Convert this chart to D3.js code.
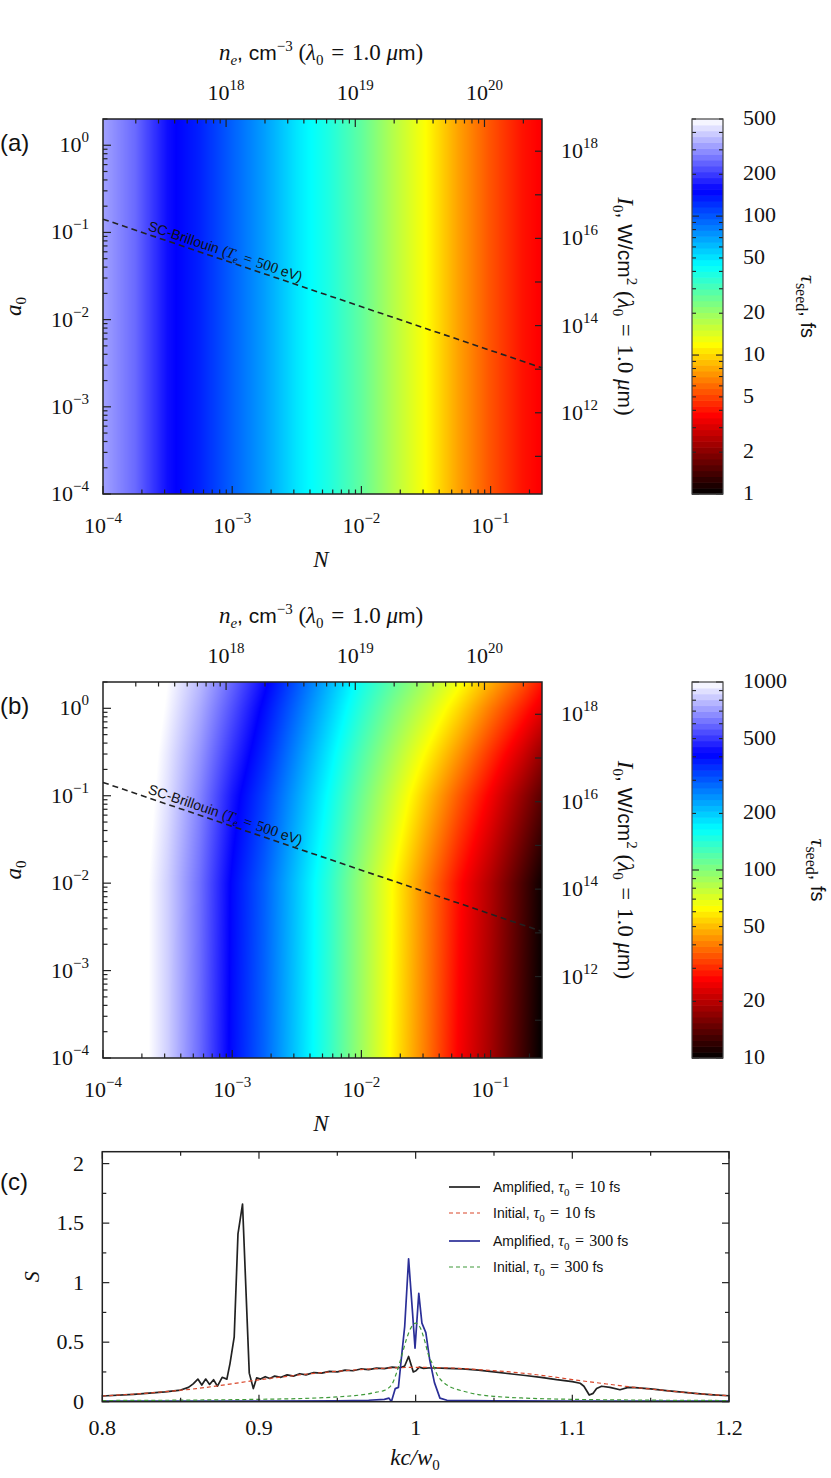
<!DOCTYPE html>
<html>
<head>
<meta charset="utf-8">
<script src="https://cdn.jsdelivr.net/npm/d3@7"></script>
<style>
body { margin: 0; background: #fff; }
text { fill: #111; }
</style>
</head>
<body>
<script>
// ---- data ----

// sample densities N (common grid for both maps)
var gridN = [1e-4, 1.78e-4, 3.16e-4, 5.62e-4, 1e-3, 1.78e-3, 3.16e-3, 5.62e-3,
             1e-2, 1.78e-2, 3.16e-2, 5.62e-2, 1e-1, 1.78e-1, 0.25];

// (a) tau_seed (fs), independent of a0
var tauSeedA = [324, 250, 163, 131, 96, 71, 50, 38, 27, 17.5, 12, 7.8, 5.4, 4.0, 3.6];

// (b) tau_seed (fs), one row per a0 value
var gridA0 = [1e-4, 1e-2, 0.1, 0.3, 1, 2];
var tauSeedB = [
    [2500, 1120, 850, 600, 400, 290, 200, 138, 91, 60, 40, 26, 18.6, 12.6, 10],
    [2500, 1120, 850, 610, 407, 295, 204, 141, 93, 62, 41, 27.5, 19.5, 13.2, 10.5],
    [2500, 1170, 900, 655, 450, 330, 232, 162, 110, 76, 52, 36, 25.5, 17.5, 14],
    [2500, 1200, 925, 695, 495, 362, 254, 178, 123, 87, 62, 44, 31, 22, 17.5],
    [2500, 1250, 975, 750, 550, 400, 285, 202, 142, 103, 77, 56, 40, 29, 24],
    [2500, 1290, 1000, 790, 590, 432, 308, 218, 155, 116, 88, 66, 48, 35, 28]
];

// SC-Brillouin threshold (Te = 500 eV)
var brillN = [1e-4, 0.25];
var brillA0 = [0.142, 0.0028];

// colour bar ranges and labels
var cbDomainA = [1, 500];
var cbDomainB = [10, 1000];
var cbLabelsA = [1, 2, 5, 10, 20, 50, 100, 200, 500];
var cbLabelsB = [10, 20, 50, 100, 200, 500, 1000];
var topLabels = [1e18, 1e19, 1e20];
var rightLabels = [1e12, 1e14, 1e16, 1e18];

// (c) spectra
var kInit10 = [0.80, 0.82, 0.84, 0.86, 0.88, 0.90, 0.92, 0.94, 0.96, 0.98, 1.00,
               1.02, 1.04, 1.06, 1.08, 1.10, 1.12, 1.14, 1.16, 1.18, 1.20];
var sInit10 = [0.048, 0.064, 0.084, 0.110, 0.145, 0.184, 0.216, 0.244, 0.266, 0.281, 0.288,
               0.284, 0.270, 0.250, 0.222, 0.186, 0.152, 0.120, 0.093, 0.068, 0.050];

var kAmp10 = [0.80, 0.82, 0.84, 0.85, 0.855, 0.858, 0.861, 0.8635, 0.866, 0.8685, 0.871, 0.8735,
              0.8765, 0.8795, 0.8815, 0.8842, 0.8866, 0.8895, 0.8938, 0.8964, 0.8985, 0.901, 0.904,
              0.907, 0.91, 0.914, 0.918, 0.922, 0.926, 0.93, 0.935, 0.94, 0.945, 0.95, 0.955, 0.96,
              0.965, 0.97, 0.975, 0.98, 0.985, 0.99, 0.993, 0.9955, 0.9985, 1.0002, 1.0023, 1.005,
              1.01, 1.02, 1.03, 1.04, 1.05, 1.06, 1.07, 1.08, 1.09, 1.10, 1.105, 1.1074, 1.1108,
              1.1133, 1.1155, 1.1187, 1.124, 1.1304, 1.1357, 1.14, 1.15, 1.16, 1.17, 1.18, 1.19, 1.20];
var sAmp10 = [0.048, 0.062, 0.083, 0.098, 0.12, 0.15, 0.19, 0.14, 0.19, 0.145, 0.185, 0.13,
              0.205, 0.19, 0.32, 0.545, 1.41, 1.66, 0.24, 0.11, 0.20, 0.19, 0.21,
              0.195, 0.215, 0.205, 0.225, 0.215, 0.235, 0.225, 0.245, 0.24, 0.255, 0.25, 0.265, 0.26,
              0.275, 0.27, 0.282, 0.278, 0.29, 0.285, 0.30, 0.38, 0.25, 0.26, 0.29, 0.28,
              0.285, 0.28, 0.275, 0.265, 0.25, 0.235, 0.22, 0.205, 0.185, 0.168, 0.155, 0.13, 0.056,
              0.07, 0.11, 0.13, 0.12, 0.10, 0.12, 0.118, 0.108, 0.093, 0.08, 0.068, 0.058, 0.05];

var kInit300 = [0.80, 0.85, 0.90, 0.93, 0.95, 0.96, 0.97, 0.975, 0.98, 0.985, 0.988, 0.991, 0.994,
                0.997, 1.0, 1.003, 1.006, 1.008, 1.011, 1.014, 1.018, 1.022, 1.026, 1.03, 1.04,
                1.05, 1.07, 1.10, 1.15, 1.20];
var sInit300 = [0.01, 0.013, 0.02, 0.028, 0.04, 0.05, 0.066, 0.08, 0.095, 0.15, 0.25, 0.38, 0.52,
                0.62, 0.66, 0.62, 0.5, 0.40, 0.31, 0.22, 0.16, 0.125, 0.105, 0.09, 0.06,
                0.045, 0.03, 0.02, 0.013, 0.01];

var kAmp300 = [0.80, 0.85, 0.90, 0.95, 0.97, 0.98, 0.983, 0.9845, 0.987, 0.989, 0.991, 0.993,
               0.9955, 0.998, 0.9996, 1.002, 1.004, 1.0065, 1.009, 1.012, 1.0155, 1.02, 1.05,
               1.10, 1.20];
var sAmp300 = [0.005, 0.005, 0.005, 0.008, 0.012, 0.02, 0.03, 0.0, 0.11, 0.12, 0.38, 0.63,
               1.2, 0.75, 0.45, 0.91, 0.66, 0.58, 0.35, 0.16, 0.03, 0.012, 0.008,
               0.005, 0.004];

// colour map: fraction of the colour bar -> colour
var cmapT = [0, 0.21, 0.40, 0.61, 0.81, 1];
var cmapColors = ["#000000", "#ff0000", "#ffff00", "#00ffff", "#0000ff", "#ffffff"];

// ---- page ----
var SERIF = "'Liberation Serif', 'Times New Roman', serif";
var SANS = "'Liberation Sans', Arial, sans-serif";
var EQ = "\u2004=\u2004"; // math spacing around "="
var W = 831, H = 1478;
var svg = d3.select("body").append("svg").attr("width", W).attr("height", H);

var cmap = d3.scaleLinear().domain(cmapT).range(cmapColors)
    .interpolate(d3.interpolateRgb).clamp(true);

// geometric interpolation between samples
function geo(a, b) {
    return function (t) { return a * Math.pow(b / a, t); };
}

function isDecade(v) {
    var l = Math.log10(v);
    return Math.abs(l - Math.round(l)) < 1e-6;
}

// small helper: tspan with font settings
function span(t, txt, fam, size, opts) {
    opts = opts || {};
    var s = t.append("tspan").style("font-family", fam).style("font-size", size + "px").text(txt);
    if (opts.italic) s.style("font-style", "italic");
    if (opts.dy) s.attr("dy", opts.dy);
    return s;
}

function powLabel(g, x, y, e, anchor) {
    var t = g.append("text").attr("x", x).attr("y", y).attr("text-anchor", anchor)
        .style("font-family", SERIF).style("font-size", "22px");
    span(t, "10", SERIF, 22);
    span(t, e < 0 ? "\u2212" + (-e) : String(e), SERIF, 15, { dy: -10 });
}

function heatmap(g, xScale, yScale, columnFn, cScale) {
    var x0 = xScale.range()[0], x1 = xScale.range()[1];
    var yTop = yScale.range()[1], yBot = yScale.range()[0];
    var w = Math.round(x1 - x0), h = Math.round(yBot - yTop);
    var cv = document.createElement("canvas");
    cv.width = w; cv.height = h;
    var ctx = cv.getContext("2d");
    var img = ctx.createImageData(w, h);
    var i, j, k, c, tauOf;
    for (i = 0; i < w; i++) {
        tauOf = columnFn(xScale.invert(x0 + i + 0.5));
        for (j = 0; j < h; j++) {
            c = d3.rgb(cmap(cScale(tauOf(yScale.invert(yTop + j + 0.5)))));
            k = 4 * (j * w + i);
            img.data[k] = c.r; img.data[k + 1] = c.g; img.data[k + 2] = c.b; img.data[k + 3] = 255;
        }
    }
    ctx.putImageData(img, 0, 0);
    g.append("image")
        .attr("x", x0).attr("y", yTop).attr("width", w).attr("height", h)
        .attr("preserveAspectRatio", "none")
        .attr("href", cv.toDataURL());
}

function lambdaPart(t) {
    span(t, " (", SERIF, 23, { dy: 9 });
    span(t, "\u03bb", SERIF, 23, { italic: true });
    span(t, "0", SERIF, 15, { dy: 5 });
    span(t, EQ + "1.0 ", SERIF, 23, { dy: -5 });
    span(t, "\u03bc", SERIF, 23, { italic: true });
    span(t, "m", SANS, 21);
    span(t, ")", SERIF, 23);
}

function mapPanel(opt) {
    var g = svg.append("g");
    var yTop = opt.yTop, yBot = opt.yBot;
    var xN = d3.scaleLog().domain([1e-4, 0.25]).range([103, 542]);
    var yA = d3.scaleLog().domain([1e-4, 2]).range([yBot, yTop]);
    // I0 = 1.37e18 a0^2 W/cm^2 at 1 um;  n_c = 1.115e21 cm^-3
    var yI = d3.scaleLog().domain([1.37e18 * 1e-8, 1.37e18 * 4]).range([yBot, yTop]);
    var xNe = d3.scaleLog().domain([1.115e21 * 1e-4, 1.115e21 * 0.25]).range([103, 542]);
    var cbar = d3.scaleLog().domain(opt.cbDomain).range([yBot, yTop]);
    var cFrac = d3.scaleLog().domain(opt.cbDomain).range([0, 1]).clamp(true);

    heatmap(g, xN, yA, opt.columnFn, cFrac);

    // SC-Brillouin line
    var lineG = g.append("g");
    var brill = d3.zip(brillN, brillA0);
    lineG.append("path")
        .attr("d", d3.line().x(function (d) { return xN(d[0]); }).y(function (d) { return yA(d[1]); })(brill))
        .attr("fill", "none").attr("stroke", "#222").attr("stroke-width", 1.6)
        .attr("stroke-dasharray", "6,4");
    var onLine = d3.scaleLog().domain(brillN).range(brillA0).interpolate(geo);
    var angle = Math.atan2(yA(brillA0[1]) - yA(brillA0[0]), xN(brillN[1]) - xN(brillN[0])) * 180 / Math.PI;
    var labN = 2.15e-4;
    var lab = lineG.append("text")
        .attr("transform", "translate(" + xN(labN) + "," + yA(onLine(labN)) + ") rotate(" + angle + ")")
        .attr("y", -4);
    span(lab, "SC-Brillouin (", SANS, 14);
    span(lab, "T", SERIF, 15, { italic: true });
    span(lab, "e", SERIF, 10, { italic: true, dy: 3 });
    span(lab, EQ + "500 ", SERIF, 15, { dy: -3 });
    span(lab, "eV)", SANS, 14);

    // ticks
    var tk = g.append("g").attr("stroke", "#222").attr("stroke-width", 1.2);
    xN.ticks().forEach(function (v) {
        var x = xN(v), len = isDecade(v) ? 8 : 4.5;
        tk.append("line").attr("x1", x).attr("x2", x).attr("y1", yBot).attr("y2", yBot - len);
        if (isDecade(v)) powLabel(g, x, yBot + 39, Math.round(Math.log10(v)), "middle");
    });
    xNe.ticks().forEach(function (v) {
        var x = xNe(v), len = isDecade(v) ? 8 : 4.5;
        tk.append("line").attr("x1", x).attr("x2", x).attr("y1", yTop).attr("y2", yTop + len);
    });
    topLabels.forEach(function (v) {
        powLabel(g, xNe(v), yTop - 19, Math.round(Math.log10(v)), "middle");
    });
    yA.ticks().forEach(function (v) {
        var y = yA(v), len = isDecade(v) ? 8 : 4.5;
        tk.append("line").attr("x1", 103).attr("x2", 103 + len).attr("y1", y).attr("y2", y);
        if (isDecade(v)) powLabel(g, 89, y + 7, Math.round(Math.log10(v)), "end");
    });
    yI.ticks().filter(isDecade).forEach(function (v) {
        var y = yI(v);
        tk.append("line").attr("x1", 542).attr("x2", 535).attr("y1", y).attr("y2", y);
    });
    rightLabels.forEach(function (v) {
        powLabel(g, 561, yI(v) + 7, Math.round(Math.log10(v)), "start");
    });

    g.append("rect").attr("x", 103).attr("y", yTop).attr("width", 439).attr("height", yBot - yTop)
        .attr("fill", "none").attr("stroke", "#222").attr("stroke-width", 1.5);

    // axis titles
    var t = g.append("text").attr("x", 321).attr("y", yTop - 59).attr("text-anchor", "middle");
    span(t, "n", SERIF, 23, { italic: true });
    span(t, "e", SERIF, 15, { italic: true, dy: 5 });
    span(t, ", cm", SANS, 21, { dy: -5 });
    span(t, "\u22123", SERIF, 15, { dy: -9 });
    lambdaPart(t);

    t = g.append("text").attr("x", 321).attr("y", yBot + 73).attr("text-anchor", "middle");
    span(t, "N", SERIF, 23, { italic: true });

    t = g.append("text")
        .attr("transform", "translate(21," + ((yTop + yBot) / 2) + ") rotate(-90)")
        .attr("text-anchor", "middle");
    span(t, "a", SERIF, 23, { italic: true });
    span(t, "0", SERIF, 15, { dy: 5 });

    t = g.append("text")
        .attr("transform", "translate(618," + ((yTop + yBot) / 2) + ") rotate(90)")
        .attr("text-anchor", "middle");
    span(t, "I", SERIF, 23, { italic: true });
    span(t, "0", SERIF, 15, { dy: 5 });
    span(t, ", W/cm", SANS, 21, { dy: -5 });
    span(t, "2", SERIF, 15, { dy: -9 });
    lambdaPart(t);

    g.append("text").attr("x", 0).attr("y", yTop + 32)
        .style("font-family", SANS).style("font-size", "24px").text(opt.tag);

    // colour bar
    var cb = g.append("g");
    var nb = 64, cbX = 692, cbW = 31, hb = (yBot - yTop) / nb;
    d3.range(nb).forEach(function (i) {
        cb.append("rect").attr("x", cbX).attr("width", cbW)
            .attr("y", yBot - (i + 1) * hb).attr("height", hb + 0.6)
            .attr("fill", cmap((i + 0.5) / nb));
    });
    cbar.ticks().forEach(function (v) {
        var y = cbar(v), len = isDecade(v) ? 7 : 4;
        cb.append("line").attr("x1", cbX).attr("x2", cbX + len).attr("y1", y).attr("y2", y)
            .attr("stroke", "#222").attr("stroke-width", 1.1);
        cb.append("line").attr("x1", cbX + cbW).attr("x2", cbX + cbW - len).attr("y1", y).attr("y2", y)
            .attr("stroke", "#222").attr("stroke-width", 1.1);
    });
    cb.append("rect").attr("x", cbX).attr("y", yTop).attr("width", cbW).attr("height", yBot - yTop)
        .attr("fill", "none").attr("stroke", "#444").attr("stroke-width", 1.2);
    opt.cbLabels.forEach(function (v) {
        cb.append("text").attr("x", 743).attr("y", cbar(v) + 6)
            .style("font-family", SERIF).style("font-size", "22px").text(v);
    });
    t = cb.append("text")
        .attr("transform", "translate(" + opt.cbTitleX + "," + ((yTop + yBot) / 2) + ") rotate(90)")
        .attr("text-anchor", "middle");
    span(t, "\u03c4", SERIF, 22, { italic: true });
    span(t, "seed", SERIF, 16, { dy: 5 });
    span(t, ", fs", SANS, 20, { dy: -5 });
}

// (a) tau depends on N only
var tauA = d3.scaleLog().domain(gridN).range(tauSeedA).interpolate(geo);
mapPanel({
    tag: "(a)", yTop: 119, yBot: 494, cbDomain: cbDomainA, cbLabels: cbLabelsA, cbTitleX: 801,
    columnFn: function (n) { var v = tauA(n); return function () { return v; }; }
});

// (b) tau depends on N and a0
var rowScales = tauSeedB.map(function (row) {
    return d3.scaleLog().domain(gridN).range(row).interpolate(geo);
});
mapPanel({
    tag: "(b)", yTop: 682, yBot: 1058, cbDomain: cbDomainB, cbLabels: cbLabelsB, cbTitleX: 811,
    columnFn: function (n) {
        var vals = rowScales.map(function (s) { return s(n); });
        var col = d3.scaleLog().domain(gridA0).range(vals).interpolate(geo).clamp(true);
        return function (a0) { return col(a0); };
    }
});

// (c) spectra
(function () {
    var g = svg.append("g");
    var x0 = 102.3, x1 = 729, yT = 1151.7, yB = 1401.7;
    var xK = d3.scaleLinear().domain([0.8, 1.2]).range([x0, x1]);
    var yS = d3.scaleLinear().domain([0, 2.1]).range([yB, yT]);

    g.append("clipPath").attr("id", "clipC").append("rect")
        .attr("x", x0).attr("y", yT).attr("width", x1 - x0).attr("height", yB - yT);

    var line = d3.line().x(function (d) { return xK(d[0]); }).y(function (d) { return yS(d[1]); });
    var smooth = d3.line().x(function (d) { return xK(d[0]); }).y(function (d) { return yS(d[1]); })
        .curve(d3.curveMonotoneX);

    var series = [
        { k: kAmp10, s: sAmp10, color: "#222222", dash: null, w: 1.7, gen: line,
          name: "Amplified, ", tau: "10" },
        { k: kInit10, s: sInit10, color: "#d9472b", dash: "4,3", w: 1.2, gen: smooth,
          name: "Initial, ", tau: "10" },
        { k: kAmp300, s: sAmp300, color: "#2b2f98", dash: null, w: 1.7, gen: line,
          name: "Amplified, ", tau: "300" },
        { k: kInit300, s: sInit300, color: "#3f9a3a", dash: "4,3", w: 1.2, gen: smooth,
          name: "Initial, ", tau: "300" }
    ];

    var lg = g.append("g").attr("clip-path", "url(#clipC)");
    series.forEach(function (d) {
        lg.append("path").attr("d", d.gen(d3.zip(d.k, d.s)))
            .attr("fill", "none").attr("stroke", d.color).attr("stroke-width", d.w)
            .attr("stroke-dasharray", d.dash).attr("stroke-linejoin", "round");
    });

    // ticks
    var tk = g.append("g").attr("stroke", "#222").attr("stroke-width", 1.2);
    d3.range(0.8, 1.2001, 0.05).forEach(function (v) {
        var x = xK(v), major = Math.abs(v * 10 - Math.round(v * 10)) < 1e-6, len = major ? 7 : 4;
        tk.append("line").attr("x1", x).attr("x2", x).attr("y1", yB).attr("y2", yB - len);
        tk.append("line").attr("x1", x).attr("x2", x).attr("y1", yT).attr("y2", yT + len);
        if (major) {
            g.append("text").attr("x", x).attr("y", 1435).attr("text-anchor", "middle")
                .style("font-family", SERIF).style("font-size", "22px").text(String(+v.toFixed(1)));
        }
    });
    d3.range(0, 2.0001, 0.25).forEach(function (v) {
        var y = yS(v), major = Math.abs(v * 2 - Math.round(v * 2)) < 1e-6, len = major ? 7 : 4;
        tk.append("line").attr("x1", x0).attr("x2", x0 + len).attr("y1", y).attr("y2", y);
        tk.append("line").attr("x1", x1).attr("x2", x1 - len).attr("y1", y).attr("y2", y);
        if (major) {
            g.append("text").attr("x", 84).attr("y", y + 7).attr("text-anchor", "end")
                .style("font-family", SERIF).style("font-size", "22px").text(String(+v.toFixed(1)));
        }
    });
    g.append("rect").attr("x", x0).attr("y", yT).attr("width", x1 - x0).attr("height", yB - yT)
        .attr("fill", "none").attr("stroke", "#222").attr("stroke-width", 1.5);

    // legend
    var rowsY = [1187, 1213, 1241, 1267];
    series.forEach(function (d, i) {
        var y = rowsY[i];
        g.append("line").attr("x1", 449).attr("x2", 480).attr("y1", y).attr("y2", y)
            .attr("stroke", d.color).attr("stroke-width", d.w).attr("stroke-dasharray", d.dash);
        var t = g.append("text").attr("x", 493).attr("y", y + 5);
        span(t, d.name, SANS, 14);
        span(t, "\u03c4", SERIF, 16, { italic: true });
        span(t, "0", SERIF, 11, { dy: 4 });
        span(t, EQ + d.tau + " ", SERIF, 16, { dy: -4 });
        span(t, "fs", SANS, 14);
    });

    // titles
    g.append("text").attr("x", 0).attr("y", 1190)
        .style("font-family", SANS).style("font-size", "24px").text("(c)");
    var t = g.append("text")
        .attr("transform", "translate(39," + ((yT + yB) / 2) + ") rotate(-90)")
        .attr("text-anchor", "middle");
    span(t, "S", SERIF, 22, { italic: true });
    t = g.append("text").attr("x", 415).attr("y", 1465).attr("text-anchor", "middle");
    span(t, "kc/w", SERIF, 23, { italic: true });
    span(t, "0", SERIF, 15, { dy: 5 });
})();
</script>
</body>
</html>
